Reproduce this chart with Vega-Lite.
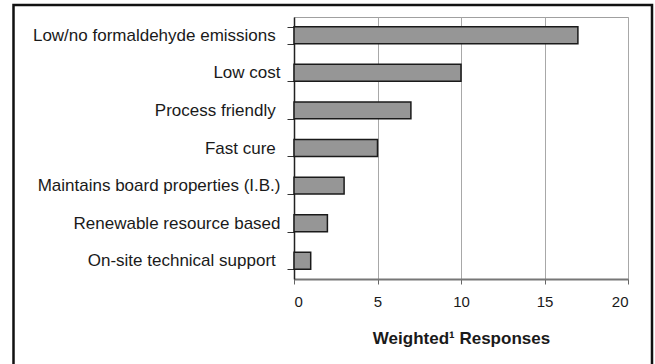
{
  "$schema": "https://vega.github.io/schema/vega-lite/v6.json",
  "autosize": "none",
  "width": 334,
  "height": 262,
  "padding": {"left": 294, "top": 17, "right": 27, "bottom": 85},
  "background": "white",
  "config": {
    "view": {"stroke": "#a0a0a0", "strokeWidth": 1},
    "font": "Liberation Sans"
  },
  "data": {
    "values": [
      {"reason": "Low/no formaldehyde emissions\u00a0\u200b", "responses": 17},
      {"reason": "Low cost", "responses": 10},
      {"reason": "Process friendly\u00a0\u200b", "responses": 7},
      {"reason": "Fast cure\u00a0\u200b", "responses": 5},
      {"reason": "Maintains board properties (I.B.)", "responses": 3},
      {"reason": "Renewable resource based", "responses": 2},
      {"reason": "On-site technical support\u00a0\u200b", "responses": 1}
    ]
  },
  "layer": [
    {
      "mark": {"type": "bar", "fill": "#969696", "stroke": "#1a1a1a", "strokeWidth": 1.5},
      "encoding": {
        "y": {
          "field": "reason",
          "type": "nominal",
          "sort": null,
          "scale": {"paddingInner": 0.55, "paddingOuter": 0.26},
          "axis": {
            "title": null,
            "tickBand": "extent",
            "tickSize": 7,
            "tickColor": "#333333",
            "domainColor": "#222222",
            "domainWidth": 1.5,
            "labelFontSize": 17,
            "labelColor": "#1a1a1a",
            "labelPadding": 7,
            "labelLimit": 300,
            "grid": false
          }
        },
        "x": {
          "field": "responses",
          "type": "quantitative",
          "scale": {"domain": [0, 20], "nice": false},
          "axis": {
            "values": [0, 5, 10, 15, 20],
            "title": "Weighted¹ Responses",
            "titleFontSize": 17,
            "titleFontWeight": "bold",
            "titleColor": "#1a1a1a",
            "titlePadding": 21,
            "tickSize": 5,
            "tickColor": "#666666",
            "domainColor": "#777777",
            "domainWidth": 2,
            "grid": true,
            "gridColor": "#a8a8a8",
            "gridWidth": 1,
            "labelFontSize": 15,
            "labelColor": "#1a1a1a",
            "labelPadding": 10
          }
        }
      }
    },
    {
      "data": {"values": [{"frame": 1}]},
      "mark": {"type": "rect", "fill": null, "stroke": "#111111", "strokeWidth": 2.5, "clip": false},
      "encoding": {
        "x": {"value": -280.5},
        "x2": {"value": 358},
        "y": {"value": -12},
        "y2": {"value": 355}
      }
    }
  ]
}
